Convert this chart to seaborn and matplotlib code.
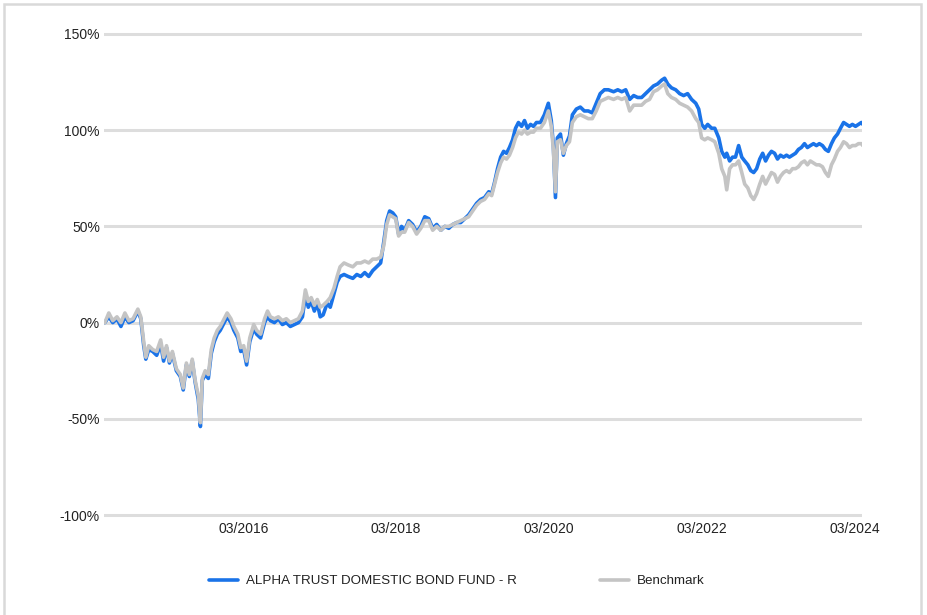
import matplotlib
matplotlib.use("Agg")
import matplotlib.pyplot as plt
import matplotlib.dates as mdates
from matplotlib.patches import Rectangle
from matplotlib.lines import Line2D
import pandas as pd
import seaborn as sns

dates = [
    "2014-05-08", "2014-05-27", "2014-06-15", "2014-07-05", "2014-07-24", "2014-08-12", "2014-08-31",
    "2014-09-20", "2014-10-13", "2014-10-27", "2014-11-10", "2014-11-20", "2014-12-04", "2014-12-23",
    "2015-01-11", "2015-01-30", "2015-02-13", "2015-02-27", "2015-03-13", "2015-03-27", "2015-04-15",
    "2015-05-04", "2015-05-18", "2015-06-02", "2015-06-16", "2015-06-30", "2015-07-14", "2015-07-29",
    "2015-08-08", "2015-08-17", "2015-08-31", "2015-09-15", "2015-09-29", "2015-10-13", "2015-10-28",
    "2015-11-11", "2015-11-30", "2015-12-14", "2016-01-01", "2016-01-15", "2016-02-03", "2016-02-17",
    "2016-03-02", "2016-03-16", "2016-03-31", "2016-04-19", "2016-05-03", "2016-05-22", "2016-06-10",
    "2016-06-24", "2016-07-08", "2016-07-27", "2016-08-15", "2016-09-03", "2016-09-22", "2016-10-11",
    "2016-10-31", "2016-11-19", "2016-12-08", "2016-12-22", "2017-01-05", "2017-01-19", "2017-02-03",
    "2017-02-17", "2017-03-03", "2017-03-17", "2017-04-05", "2017-04-20", "2017-05-08", "2017-05-23",
    "2017-06-06", "2017-06-25", "2017-07-14", "2017-08-06", "2017-08-25", "2017-09-13", "2017-10-02",
    "2017-10-21", "2017-11-09", "2017-11-28", "2017-12-17", "2018-01-01", "2018-01-15", "2018-01-29",
    "2018-02-13", "2018-02-27", "2018-03-13", "2018-03-27", "2018-04-11", "2018-04-30", "2018-05-19",
    "2018-06-07", "2018-06-27", "2018-07-16", "2018-08-04", "2018-08-23", "2018-09-11", "2018-10-01",
    "2018-10-20", "2018-11-08", "2018-11-27", "2018-12-16", "2019-01-04", "2019-01-23", "2019-02-11",
    "2019-03-02", "2019-03-21", "2019-04-09", "2019-04-28", "2019-05-18", "2019-06-01", "2019-06-15",
    "2019-06-29", "2019-07-14", "2019-07-28", "2019-08-11", "2019-08-25", "2019-09-09", "2019-09-23",
    "2019-10-07", "2019-10-22", "2019-11-05", "2019-11-19", "2019-12-04", "2019-12-18", "2020-01-01",
    "2020-01-20", "2020-02-08", "2020-02-27", "2020-03-12", "2020-03-22", "2020-04-01", "2020-04-10",
    "2020-04-25", "2020-05-09", "2020-05-23", "2020-06-07", "2020-06-21", "2020-07-10", "2020-07-29",
    "2020-08-17", "2020-09-05", "2020-09-24", "2020-10-13", "2020-11-01", "2020-11-21", "2020-12-10",
    "2021-01-04", "2021-01-24", "2021-02-12", "2021-03-03", "2021-03-22", "2021-04-10", "2021-04-29",
    "2021-05-18", "2021-06-06", "2021-06-25", "2021-07-14", "2021-08-02", "2021-08-22", "2021-09-05",
    "2021-09-20", "2021-10-08", "2021-10-28", "2021-11-16", "2021-12-05", "2021-12-24", "2022-01-12",
    "2022-02-01", "2022-02-15", "2022-03-01", "2022-03-16", "2022-03-30", "2022-04-18", "2022-05-03",
    "2022-05-22", "2022-06-05", "2022-06-20", "2022-06-29", "2022-07-13", "2022-07-27", "2022-08-10",
    "2022-08-25", "2022-09-09", "2022-09-23", "2022-10-08", "2022-10-22", "2022-11-05", "2022-11-19",
    "2022-12-04", "2022-12-18", "2023-01-01", "2023-01-15", "2023-01-29", "2023-02-13", "2023-02-27",
    "2023-03-13", "2023-03-28", "2023-04-11", "2023-04-25", "2023-05-10", "2023-05-24", "2023-06-07",
    "2023-06-21", "2023-07-06", "2023-07-20", "2023-08-03", "2023-08-18", "2023-09-01", "2023-09-15",
    "2023-09-30", "2023-10-14", "2023-10-28", "2023-11-12", "2023-11-26", "2023-12-11", "2023-12-25",
    "2024-01-09", "2024-01-23", "2024-02-06", "2024-02-20", "2024-03-06", "2024-03-20", "2024-04-03",
    "2024-04-10",
]

fund = [
    0, 3, 0, 2, -2, 3, 0,
    1, 6, 2, -12, -19, -14, -15,
    -17, -11, -20, -13, -21, -16, -25,
    -28, -35, -22, -28, -20, -31, -40,
    -54, -30, -27, -29, -16, -10, -6,
    -4, 0, 3, 0, -4, -8, -15,
    -14, -22, -10, -3, -6, -8, 0,
    3, 1, 0, 2, -1, 0, -2,
    -1, 0, 3, 14, 8, 11, 6,
    10, 3, 4, 10, 8, 15, 21,
    24, 25, 24, 23, 25, 24, 26,
    24, 27, 29, 31, 42, 53, 58,
    57, 55, 46, 50, 48, 53, 51,
    47, 50, 55, 54, 49, 51, 48,
    50, 49, 51, 52, 52, 54, 56,
    59, 62, 64, 65, 68, 67, 73,
    80, 86, 89, 88, 91, 95, 101,
    104, 102, 105, 101, 103, 102, 104,
    104, 108, 114, 105, 92, 65, 96,
    98, 87, 93, 97, 108, 111, 112,
    110, 110, 109, 114, 119, 121, 121,
    120, 121, 120, 121, 116, 118, 117,
    117, 119, 121, 123, 124, 126, 127,
    124, 122, 121, 119, 118, 119, 116,
    114, 111, 103, 101, 103, 101, 101,
    96, 89, 86, 88, 84, 86, 86,
    92, 86, 84, 82, 79, 78, 80,
    85, 88, 84, 87, 89, 88, 85,
    87, 86, 87, 86, 87, 88, 90,
    91, 93, 91, 92, 93, 92, 93,
    92, 90, 89, 93, 96, 98, 101,
    104, 103, 102, 103, 102, 103, 104,
    103,
]

benchmark = [
    0, 5, 1, 3, 0, 5, 1,
    2, 7, 3, -10, -18, -12, -14,
    -15, -9, -18, -12, -20, -15, -24,
    -27, -34, -21, -27, -19, -30, -38,
    -52, -29, -25, -27, -14, -8, -4,
    -2, 2, 5, 2, -2, -6, -13,
    -12, -20, -8, -1, -4, -6, 2,
    6, 3, 2, 3, 1, 2, 0,
    1, 2, 6, 17, 11, 13, 9,
    12, 8, 9, 11, 13, 18, 24,
    29, 31, 30, 29, 31, 31, 32,
    31, 33, 33, 34, 40, 51, 56,
    55, 54, 45, 47, 47, 52, 50,
    46, 49, 53, 53, 48, 50, 48,
    50, 50, 51, 52, 53, 54, 55,
    58, 61, 63, 64, 67, 66, 72,
    78, 83, 86, 85, 87, 91, 96,
    99, 98, 100, 98, 99, 99, 101,
    101, 104, 110, 102, 90, 68, 94,
    95, 88, 92, 94, 104, 107, 108,
    107, 106, 106, 110, 115, 116, 117,
    116, 117, 116, 117, 110, 113, 113,
    113, 115, 116, 120, 121, 123, 124,
    119, 117, 116, 114, 113, 112, 110,
    106, 104, 96, 95, 96, 95, 94,
    88, 80, 76, 69, 80, 82, 82,
    84, 78, 72, 70, 66, 64, 67,
    72, 76, 72, 75, 78, 77, 73,
    76, 78, 79, 78, 80, 80, 81,
    83, 84, 82, 84, 83, 82, 82,
    81, 78, 76, 82, 85, 89, 91,
    94, 93, 91, 92, 92, 93, 93,
    92,
]

series_names = ["ALPHA TRUST DOMESTIC BOND FUND - R", "Benchmark"]
series_colors = ["#1a73e8", "#c4c4c4"]
y_ticks = [-100, -50, 0, 50, 100, 150]
x_ticks = ["2016-03-01", "2018-03-01", "2020-03-01", "2022-03-01", "2024-03-01"]

sns.set_theme(style="white")
plt.rcParams["font.family"] = ["Liberation Sans", "DejaVu Sans"]

df = pd.concat([
    pd.DataFrame({"date": pd.to_datetime(dates), "value": fund, "series": series_names[0]}),
    pd.DataFrame({"date": pd.to_datetime(dates), "value": benchmark, "series": series_names[1]}),
], ignore_index=True)

fig = plt.figure(figsize=(9.27, 6.15), dpi=100)
ax = fig.add_axes([104 / 927, 1 - 517.9 / 615, 758 / 927, (517.9 - 31.1) / 615])

sns.lineplot(data=df, x="date", y="value", hue="series", hue_order=series_names,
             palette=dict(zip(series_names, series_colors)), linewidth=2.6,
             ax=ax, legend=False, estimator=None, sort=False)

ax.set_xlim(pd.Timestamp("2014-05-04"), pd.Timestamp("2024-04-06"))
ax.set_ylim(-101.5, 151.5)
ax.set_yticks(y_ticks)
ax.set_yticklabels([f"{v}%" for v in y_ticks])
ax.set_xticks(pd.to_datetime(x_ticks))
ax.xaxis.set_major_formatter(mdates.DateFormatter("%m/%Y"))
ax.tick_params(axis="both", length=0, labelsize=10, colors="#222222")
ax.tick_params(axis="x", pad=3)
ax.tick_params(axis="y", pad=3)
ax.yaxis.grid(True, color="#dddddd", linewidth=2.2)
ax.xaxis.grid(False)
ax.set_axisbelow(True)
for s in ax.spines.values():
    s.set_visible(False)
ax.set_xlabel("")
ax.set_ylabel("")

handles = [Line2D([0], [0], color=c, linewidth=2.6) for c in series_colors]
fig.legend(handles, series_names, loc="center", bbox_to_anchor=(0.493, 0.055), ncol=2,
           frameon=False, fontsize=9.6, handlelength=2.2, handletextpad=0.6,
           columnspacing=6.2, labelcolor="#222222")

fig.patches.append(Rectangle((4 / 927, -0.05), 917 / 927, 1.05 - 4 / 615, transform=fig.transFigure,
                             fill=False, edgecolor="#d9d9d9", linewidth=1.8, figure=fig))

fig.savefig("out.png", dpi=100)
